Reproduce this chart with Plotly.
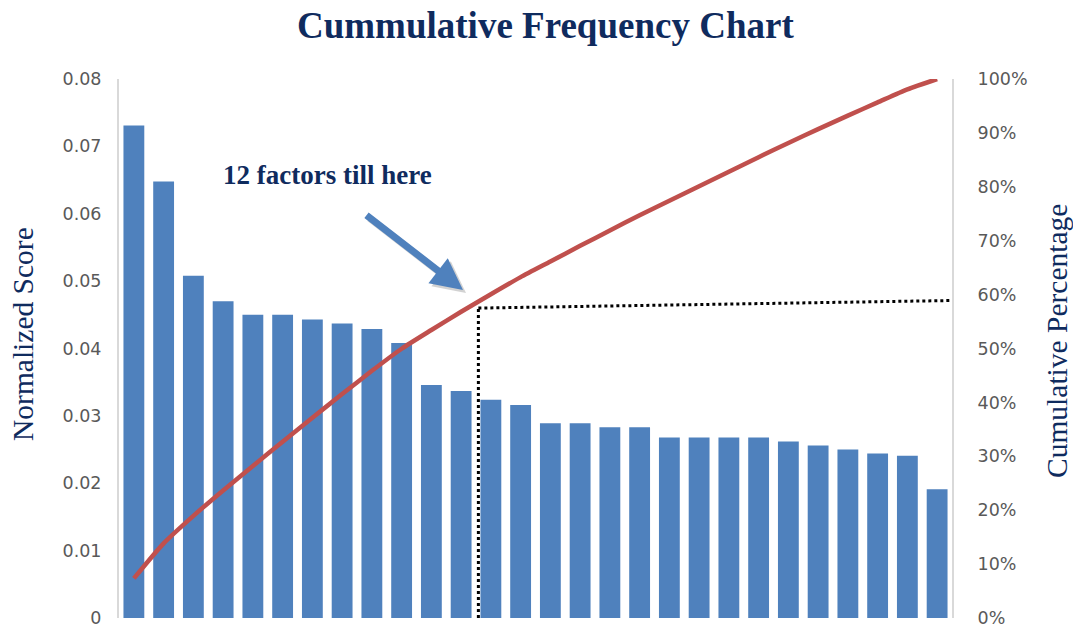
import numpy as np
import plotly.graph_objects as go

# Normalized score for each of the 28 factors, sorted descending
factors = [f"F{i}" for i in range(1, 29)]
scores = [0.0731, 0.0648, 0.0508, 0.0470, 0.0450, 0.0450, 0.0443, 0.0437,
          0.0429, 0.0408, 0.0346, 0.0337, 0.0324, 0.0316, 0.0289, 0.0289,
          0.0283, 0.0283, 0.0268, 0.0268, 0.0268, 0.0268, 0.0262, 0.0256,
          0.0250, 0.0244, 0.0241, 0.0191]

left_ticks = [0, 0.01, 0.02, 0.03, 0.04, 0.05, 0.06, 0.07, 0.08]
left_labels = ["0", "0.01", "0.02", "0.03", "0.04", "0.05", "0.06", "0.07", "0.08"]
right_ticks = [0, 10, 20, 30, 40, 50, 60, 70, 80, 90, 100]
right_labels = [f"{v}%" for v in right_ticks]

# cut-off after the 12th factor and the level it reaches
cut_pos = 11.58
cut_level = [57.5, 58.9]

cum_pct = np.cumsum(scores) / np.sum(scores) * 100

W, H = 1073, 630
ML, MR, MT, MB = 119, 121, 79, 12
PW, PH = W - ML - MR, H - MT - MB


def px(x):
    return (x - ML) / PW


def py(y):
    return (H - MB - y) / PH


BLUE = "#4F81BD"
RED = "#C0504D"
NAVY = "#0F2B5E"
GRAY = "#595959"
TICK_FONT = dict(family="DejaVu Sans", size=17.5, color=GRAY)

fig = go.Figure()
fig.add_trace(go.Bar(x=factors, y=scores, marker=dict(color=BLUE, line=dict(width=0)),
                     yaxis="y", showlegend=False))
fig.add_trace(go.Scatter(x=factors, y=cum_pct, mode="lines", yaxis="y2",
                         line=dict(color=RED, width=4.5, shape="spline", smoothing=0.6),
                         showlegend=False))

# dotted guide lines marking the first 12 factors
fig.add_shape(type="line", xref="x", yref="y2", x0=cut_pos, x1=cut_pos,
              y0=0, y1=cut_level[0], line=dict(color="black", width=3, dash="dot"))
fig.add_shape(type="line", xref="x", yref="y2", x0=cut_pos, x1=27.45,
              y0=cut_level[0], y1=cut_level[1], line=dict(color="black", width=3, dash="dot"))

annotations = [
    dict(text="<b>Cummulative Frequency Chart</b>", x=px(545), y=py(26),
         font=dict(family="Liberation Serif", size=37, color=NAVY)),
    dict(text="Normalized Score", x=px(23), y=py(334), textangle=-90,
         font=dict(family="Liberation Serif", size=29.5, color=NAVY)),
    dict(text="Cumulative Percentage", x=px(1057), y=py(341), textangle=-90,
         font=dict(family="Liberation Serif", size=29.5, color=NAVY)),
    dict(text="<b>12 factors till here</b>", x=px(327), y=py(175),
         font=dict(family="Liberation Serif", size=27, color=NAVY)),
]
for a in annotations:
    a.update(xref="paper", yref="paper", showarrow=False, xanchor="center", yanchor="middle")

# arrow pointing at the cut-off (soft shadow underneath)
for dx, dy, col in [(3, 3, "rgba(80,80,80,0.25)"), (0, 0, BLUE)]:
    annotations.append(dict(
        text="", xref="paper", yref="paper",
        x=px(463 + dx), y=py(290 + dy), axref="pixel", ayref="pixel",
        ax=-98, ay=-76, showarrow=True, arrowhead=2, arrowsize=0.9,
        arrowwidth=7, arrowcolor=col, standoff=0))

fig.update_layout(
    width=W, height=H,
    margin=dict(l=ML, r=MR, t=MT, b=MB, autoexpand=False),
    paper_bgcolor="white", plot_bgcolor="white",
    bargap=0.3,
    xaxis=dict(range=[-0.5, 27.5], showticklabels=False, showgrid=False,
               zeroline=False, showline=False, ticks="", automargin=False),
    yaxis=dict(range=[0, 0.08], tickvals=left_ticks, ticktext=left_labels,
               showgrid=False, zeroline=False, showline=True, linecolor="#D9D9D9",
               linewidth=2, ticks="", ticklabelstandoff=12, automargin=False,
               tickfont=TICK_FONT),
    yaxis2=dict(range=[0, 100], tickvals=right_ticks, ticktext=right_labels,
                overlaying="y", side="right", showgrid=False, zeroline=False,
                showline=True, linecolor="#D9D9D9", linewidth=2, ticks="",
                ticklabelstandoff=20, automargin=False,
                tickfont=TICK_FONT),
    annotations=annotations,
)

fig.write_html("out.html")
